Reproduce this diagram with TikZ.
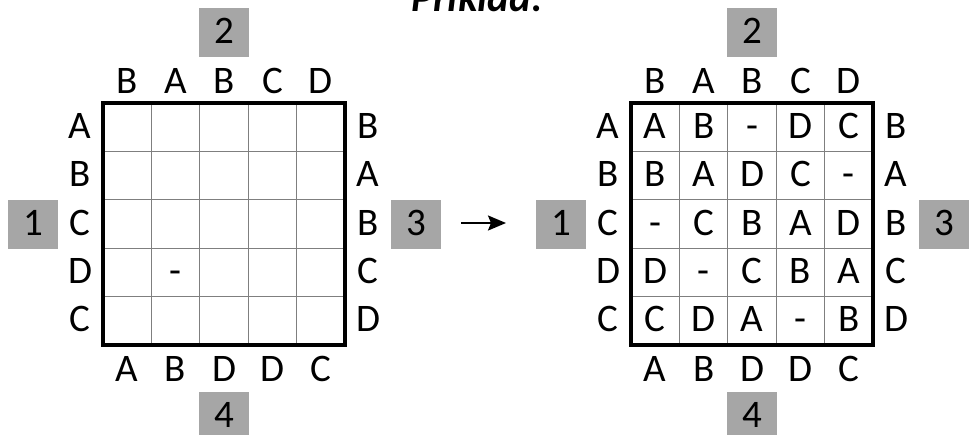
\documentclass[tikz,border=0pt]{standalone}
\usepackage{fontspec}
\setmainfont{Carlito}
\usetikzlibrary{arrows.meta}
\definecolor{boxgray}{HTML}{A6A6A6}
\definecolor{linegray}{HTML}{7F7F7F}
\tikzset{
  lbl/.style={inner sep=0pt, font=\fontsize{39}{39}\selectfont, text height=22pt, text depth=0pt, anchor=center},
  numbox/.style={fill=boxgray, minimum width=50pt, minimum height=49pt, inner sep=0pt, font=\fontsize{39}{39}\selectfont, text height=22pt, text depth=0pt},
  thin grid/.style={draw=linegray, line width=1.2pt},
  border/.style={draw=black, line width=4pt},
}
\begin{document}
\begin{tikzpicture}[x=1pt,y=-1pt]
\useasboundingbox (0,0) rectangle (974,434);
\clip (0,0) rectangle (974,434);
% title
\node[anchor=base, inner sep=0pt, font=\fontsize{41}{41}\selectfont\bfseries\itshape] (title) at (477,11) {Príklad:};
\def\cs{48.4}
% two grids
\foreach \g/\ox in {L/103, R/631} {
  % thin lines
  \foreach \k in {1,2,3,4} {
    \draw[thin grid] (\ox+\k*\cs,103) -- (\ox+\k*\cs,103+5*\cs);
    \draw[thin grid] (\ox,103+\k*\cs) -- (\ox+5*\cs,103+\k*\cs);
  }
  \draw[border] (\ox,103) rectangle (\ox+5*\cs,103+5*\cs);
  % top labels
  \foreach \t [count=\i] in {B,A,B,C,D}
    \node[lbl] (\g-top-\i) at (\ox+\i*\cs-0.5*\cs,82) {\t};
  % bottom labels
  \foreach \t [count=\i] in {A,B,D,D,C}
    \node[lbl] (\g-bot-\i) at (\ox+\i*\cs-0.5*\cs,370) {\t};
  % left labels
  \foreach \t [count=\i] in {A,B,C,D,C}
    \node[lbl] (\g-left-\i) at (\ox-23,103+\i*\cs-0.5*\cs) {\t};
  % right labels
  \foreach \t [count=\i] in {B,A,B,C,D}
    \node[lbl] (\g-right-\i) at (\ox+5*\cs+23,103+\i*\cs-0.5*\cs) {\t};
  % number boxes
  \node[numbox] (\g-n2) at (\ox+2.5*\cs,32) {2};
  \node[numbox] (\g-n4) at (\ox+2.5*\cs,416.5) {4};
  \node[numbox] (\g-n1) at (\ox-70,224) {1};
  \node[numbox] (\g-n3) at (\ox+5*\cs+71,224) {3};
}
% left grid given cell
\node[lbl] (L-c42) at (103+1.5*\cs,103+3.5*\cs) {-};
% right grid solution
\foreach \row [count=\r] in {{A,B,-,D,C},{B,A,D,C,-},{-,C,B,A,D},{D,-,C,B,A},{C,D,A,-,B}} {
  \foreach \t [count=\c] in \row
    \node[lbl] (R-c\r\c) at (631+\c*\cs-0.5*\cs,103+\r*\cs-0.5*\cs) {\t};
}
% arrow
\coordinate (as) at (461,223);
\coordinate (ae) at (506,223);
\draw[line width=2pt, -{Stealth[length=18pt,width=15pt,inset=3pt]}] (as) -- (ae);
\end{tikzpicture}
\end{document}
